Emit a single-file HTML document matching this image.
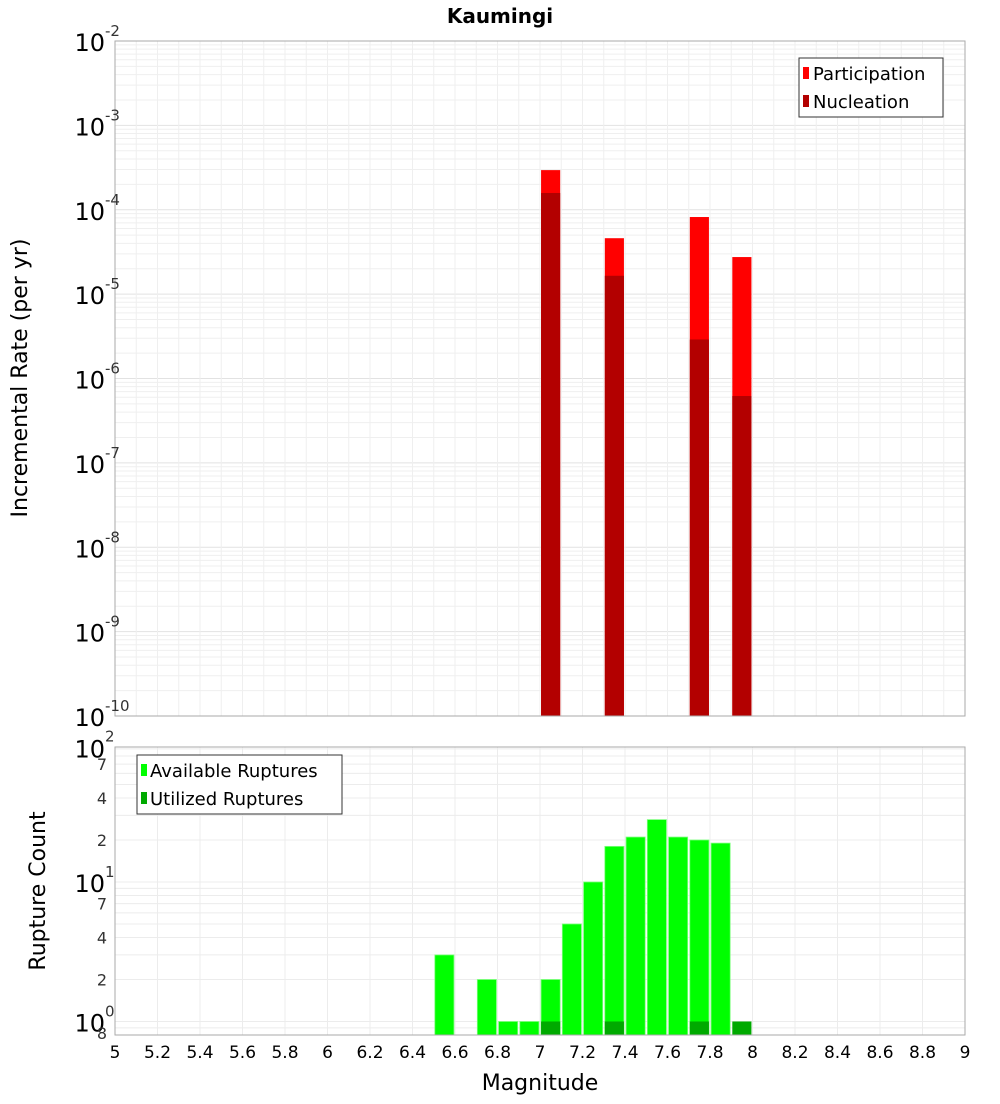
<!DOCTYPE html>
<html><head><meta charset="utf-8"><style>
body{margin:0;background:#fff;font-family:"DejaVu Sans","Liberation Sans",sans-serif;}
svg text{font-family:"DejaVu Sans","Liberation Sans",sans-serif;}
</style></head><body>
<svg id="c" width="1000" height="1100" xmlns="http://www.w3.org/2000/svg">
<text x="500" y="23" text-anchor="middle" font-size="20" font-weight="bold">Kaumingi</text>
<g id="topPanel"></g>
<g id="botPanel"></g>
<text transform="translate(27,378) rotate(-90)" text-anchor="middle" font-size="22">Incremental Rate (per yr)</text>
<text transform="translate(45,891) rotate(-90)" text-anchor="middle" font-size="22">Rupture Count</text>
<text x="540" y="1090" text-anchor="middle" font-size="22">Magnitude</text>
</svg>
<script>
const topMags=[7.05,7.35,7.75,7.95];
const participation=[2.95e-4,4.6e-5,8.2e-5,2.75e-5];
const nucleation=[1.58e-4,1.65e-5,2.9e-6,6.2e-7];
const availMags=[6.55,6.75,6.85,6.95,7.05,7.15,7.25,7.35,7.45,7.55,7.65,7.75,7.85];
const available=[3,2,1,1,2,5,10,18,21,28,21,20,19];
const utilMags=[7.05,7.35,7.75,7.95];
const utilized=[1,1,1,1];
const xTicks=[5,5.2,5.4,5.6,5.8,6,6.2,6.4,6.6,6.8,7,7.2,7.4,7.6,7.8,8,8.2,8.4,8.6,8.8,9];
const topExps=[-2,-3,-4,-5,-6,-7,-8,-9,-10];

const NS="http://www.w3.org/2000/svg";
const X0=115,X1=965;
const x=m=>X0+(m-5)/4*(X1-X0);
const T0=41,T1=716;
const yT=v=>T0+(-2-Math.log10(v))/8*(T1-T0);
const B0=747,B1=1035,BMIN=0.8,DEC=139.5;
const yB=v=>B1-(Math.log10(v)-Math.log10(BMIN))*DEC;
function el(p,tag,a,txt){const e=document.createElementNS(NS,tag);for(const k in a)e.setAttribute(k,a[k]);if(txt!==undefined)e.textContent=txt;p.appendChild(e);return e;}
const topG=document.getElementById('topPanel'),botG=document.getElementById('botPanel');
const gw=0.09*(X1-X0)/4;

for(let e=-10;e<-2;e++)for(let k=1;k<10;k++){const y=yT(k*Math.pow(10,e));const l=el(topG,'line',{x1:X0,x2:X1,y1:y,y2:y,stroke:k==1?'#e2e2e2':'#efefef','stroke-width':1});}
for(let m=5;m<=9.001;m+=0.1){const xx=x(m);const l=el(topG,'line',{x1:xx,x2:xx,y1:T0,y2:T1,stroke:'#efefef'});}
topMags.forEach((m,i)=>{
 const r=el(topG,'rect',{x:x(m)-gw/2,y:yT(participation[i]),width:gw,height:T1-yT(participation[i]),fill:'#ff0000'});
 
 const n=el(topG,'rect',{x:x(m)-gw/2,y:yT(nucleation[i]),width:gw,height:T1-yT(nucleation[i]),fill:'#b30000'});
 
});
el(topG,'rect',{x:X0,y:T0,width:X1-X0,height:T1-T0,fill:'none',stroke:'#aaa'});
topExps.forEach(e=>{const y=yT(Math.pow(10,e));
 const t=el(topG,'text',{x:105,y:y+10,'text-anchor':'end','font-size':24},'10');
 
 const s=el(topG,'text',{x:105,y:y-5,'font-size':15,fill:'#333'},String(e));
 });
const lg=el(topG,'g',{});
el(lg,'rect',{x:799,y:58,width:144,height:59,fill:'#fff',stroke:'#333'});
el(lg,'rect',{x:803,y:67,width:6,height:12,fill:'#ff0000'});
el(lg,'text',{x:813,y:80,'font-size':18},'Participation');
el(lg,'rect',{x:803,y:95,width:6,height:12,fill:'#b30000'});
el(lg,'text',{x:813,y:108,'font-size':18},'Nucleation');

[0.8,0.9,1,2,3,4,5,6,7,8,9,10,20,30,40,50,60,70,80,90].forEach(v=>{const y=yB(v);const l=el(botG,'line',{x1:X0,x2:X1,y1:y,y2:y,stroke:'#ececec'});});
for(let m=5;m<=9.001;m+=0.2){const xx=x(m);const l=el(botG,'line',{x1:xx,x2:xx,y1:B0,y2:B1,stroke:'#ececec'});}
availMags.forEach((m,i)=>{const r=el(botG,'rect',{x:x(m)-gw/2,y:yB(available[i]),width:gw,height:B1-yB(available[i]),fill:'#00ff00',stroke:'#7fff7f','stroke-width':0.8});});
utilMags.forEach((m,i)=>{const r=el(botG,'rect',{x:x(m)-gw/2,y:yB(utilized[i]),width:gw,height:B1-yB(utilized[i]),fill:'#00aa00'});});
el(botG,'rect',{x:X0,y:B0,width:X1-X0,height:B1-B0,fill:'none',stroke:'#aaa'});
[[100,'10','2'],[10,'10','1'],[1,'10','0']].forEach(d=>{const y=yB(d[0]);
 const t=el(botG,'text',{x:105,y:d[0]==100?y+15:y+10,'text-anchor':'end','font-size':24},d[1]);
 const s=el(botG,'text',{x:105,y:d[0]==100?y-1:y-5,'font-size':15,fill:'#333'},d[2]);});
[70,40,20,7,4,2,0.8].forEach(v=>{const y=yB(v);const t=el(botG,'text',{x:107,y:v==0.8?y+4:y+6,'text-anchor':'end','font-size':16,fill:'#333'},String(v==0.8?8:(v>=10?v/10:v)));});
xTicks.forEach(m=>{const t=el(botG,'text',{x:x(m),y:1058,'text-anchor':'middle','font-size':17},String(m));});
const lb=el(botG,'g',{});
el(lb,'rect',{x:137,y:755,width:205,height:59,fill:'#fff',stroke:'#333'});
el(lb,'rect',{x:141,y:764,width:6,height:12,fill:'#00ff00'});
el(lb,'text',{x:150,y:777,'font-size':18},'Available Ruptures');
el(lb,'rect',{x:141,y:792,width:6,height:12,fill:'#00aa00'});
el(lb,'text',{x:150,y:805,'font-size':18},'Utilized Ruptures');
</script>
</body></html>
